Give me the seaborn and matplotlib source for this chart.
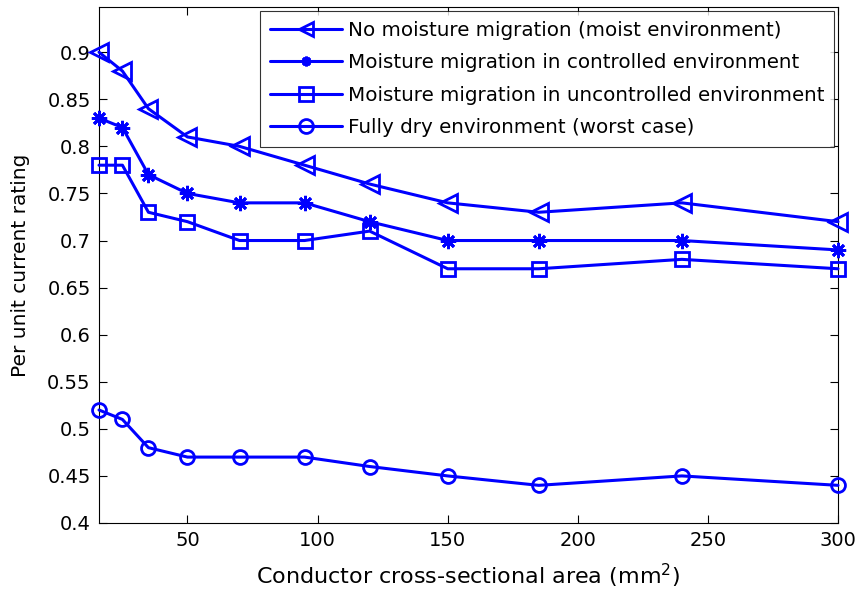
import matplotlib
matplotlib.use("Agg")
import matplotlib.pyplot as plt
import seaborn as sns
import numpy as np
import pandas as pd

area = [16, 25, 35, 50, 70, 95, 120, 150, 185, 240, 300]
no_migration = [0.90, 0.88, 0.84, 0.81, 0.80, 0.78, 0.76, 0.74, 0.73, 0.74, 0.72]
controlled = [0.83, 0.82, 0.77, 0.75, 0.74, 0.74, 0.72, 0.70, 0.70, 0.70, 0.69]
uncontrolled = [0.78, 0.78, 0.73, 0.72, 0.70, 0.70, 0.71, 0.67, 0.67, 0.68, 0.67]
fully_dry = [0.52, 0.51, 0.48, 0.47, 0.47, 0.47, 0.46, 0.45, 0.44, 0.45, 0.44]

labels = ["No moisture migration (moist environment)",
          "Moisture migration in controlled environment",
          "Moisture migration in uncontrolled environment",
          "Fully dry environment (worst case)"]
series = [no_migration, controlled, uncontrolled, fully_dry]
markers = ["<", (8, 2, 0), "s", "o"]
msizes = [13, 11, 10.5, 10]
leg_msizes = [10, 7, 10, 10]

sns.set_theme(style="white")
plt.rcParams['font.family'] = ['DejaVu Sans']
plt.rcParams['text.color'] = 'black'

fig = plt.figure(figsize=(8.61, 5.93), dpi=100)
ax = fig.add_axes([99/861, 1-523/593, (838-99)/861, (523-7)/593])

for lab, vals, m, ms in zip(labels, series, markers, msizes):
    df = pd.DataFrame({"x": area, "y": vals})
    sns.lineplot(data=df, x="x", y="y", ax=ax, color=(0, 0, 1), linewidth=2.2,
                 marker=m, markersize=ms, markerfacecolor="none",
                 markeredgecolor=(0, 0, 1), markeredgewidth=2, label=lab,
                 clip_on=False, zorder=3)

ax.set_xlim(16, 300)
ax.set_ylim(0.4, 0.948)
ax.set_xticks([50, 100, 150, 200, 250, 300])
ax.set_yticks(np.round(np.arange(0.4, 0.901, 0.05), 2))
ax.set_yticklabels(["0.4", "0.45", "0.5", "0.55", "0.6", "0.65", "0.7", "0.75", "0.8", "0.85", "0.9"])
ax.tick_params(direction="in", length=6, width=0.8, labelsize=14, colors="black",
               top=True, right=True, bottom=True, left=True, pad=6)
for s in ax.spines.values():
    s.set_color("black")
    s.set_linewidth(0.8)
ax.set_xlabel("Conductor cross-sectional area (mm$^2$)", fontsize=16, color="black", labelpad=8)
ax.set_ylabel("Per unit current rating", fontsize=14.5, color="black", labelpad=12)

leg = ax.legend(loc="upper right", fontsize=14.3, frameon=True, fancybox=False,
                edgecolor="black", borderaxespad=0.2, handlelength=3.6,
                borderpad=0.5, labelspacing=0.68, handletextpad=0.3)
leg.get_frame().set_linewidth(0.8)
leg.set_zorder(5)
for t in leg.get_texts():
    t.set_color("black")
for h, s in zip(leg.legend_handles, leg_msizes):
    h.set_markersize(s)

fig.savefig("out.png", dpi=100)
